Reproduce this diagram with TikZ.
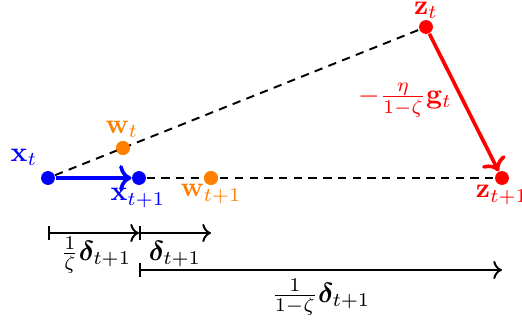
\documentclass[tikz,border=0pt]{standalone}
\usepackage{amsmath,bm}
\usetikzlibrary{arrows.meta}
\definecolor{myorange}{RGB}{255,128,0}
\begin{document}
\begin{tikzpicture}[x=0.36pt,y=-0.36pt,
  dot/.style={circle,fill=#1,inner sep=0pt,minimum size=5pt},
  lab/.style={inner sep=1pt,text=#1},
  dsh/.style={dash pattern=on 3pt off 2.3pt,line width=0.7pt},
  bar/.style={{Bar[width=5pt]}->,line width=0.7pt}]
\useasboundingbox (0,0) rectangle (522,326);
\node[dot=blue] (xt) at (48,178) {};
\node[dot=blue] (xt1) at (139,178) {};
\node[dot=myorange] (wt) at (123,148) {};
\node[dot=myorange] (wt1) at (211,178) {};
\node[dot=red] (zt) at (426,27) {};
\node[dot=red] (zt1) at (502,178) {};
\draw[dsh] (xt) -- (zt);
\draw[dsh] (xt1) -- (zt1);
\node[dot=myorange] at (wt) {};
\node[dot=myorange] at (wt1) {};
\draw[->,blue,line width=1.3pt] (xt) -- (xt1);
\draw[->,red,line width=1.3pt] (zt) -- (zt1);
\node[lab=blue] (lxt) at (24,157) {$\mathbf{x}_t$};
\node[lab=blue] (lxt1) at (138,198) {$\mathbf{x}_{t+1}$};
\node[lab=myorange] (lwt) at (122,129) {$\mathbf{w}_t$};
\node[lab=myorange] (lwt1) at (211,194) {$\mathbf{w}_{t+1}$};
\node[lab=red] (lzt) at (426,10) {$\mathbf{z}_t$};
\node[lab=red] (lzt1) at (502,195) {$\mathbf{z}_{t+1}$};
\node[lab=red] (lg) at (405,100) {$-\frac{\eta}{1-\zeta}\mathbf{g}_t$};
\coordinate (a0) at (48,233);
\coordinate (a1) at (139,233);
\coordinate (a2) at (211,233);
\coordinate (b0) at (139,270);
\coordinate (b1) at (502,270);
\draw[bar] (a0) -- (a1);
\draw[bar] (a1) -- (a2);
\draw[bar] (b0) -- (b1);
\node (l1) at (96,255) {$\frac{1}{\zeta}\bm{\delta}_{t+1}$};
\node (l2) at (175,254) {$\bm{\delta}_{t+1}$};
\node (l3) at (321,297) {$\frac{1}{1-\zeta}\bm{\delta}_{t+1}$};
\end{tikzpicture}
\end{document}
